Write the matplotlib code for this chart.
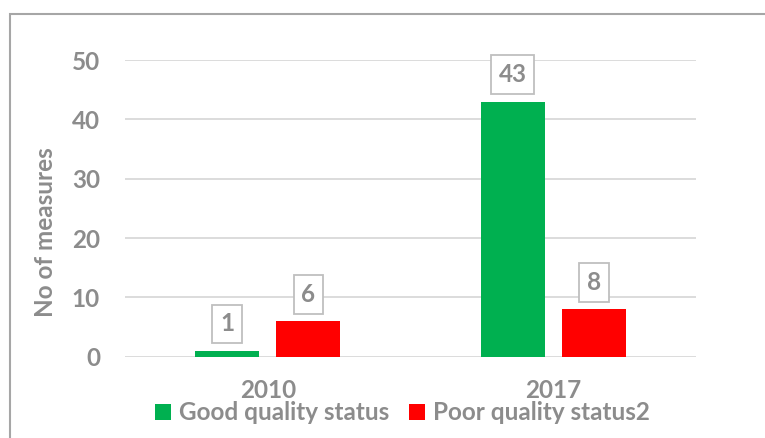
import matplotlib
matplotlib.use("Agg")
import matplotlib.pyplot as plt
from matplotlib.patches import Rectangle
import numpy as np

# data
years = ["2010", "2017"]
good = [1, 43]
poor = [6, 8]
series_names = ["Good quality status", "Poor quality status2"]
yticks = [0, 10, 20, 30, 40, 50]

plt.rcParams["font.family"] = ["Lato", "DejaVu Sans"]
text_grey = "#8c8c8c"
grid_grey = "#d9d9d9"
fs = 17.5

fig = plt.figure(figsize=(7.65, 4.38), dpi=100)
ax = fig.add_axes([0.1634, 0.1856, 0.9098 - 0.1634, 0.863 - 0.1856])

x = np.arange(len(years))
w = 0.224
gap = 0.06
b1 = ax.bar(x - (w + gap) / 2, good, w, color="#00b050", label=series_names[0], zorder=3)
b2 = ax.bar(x + (w + gap) / 2, poor, w, color="#ff0000", label=series_names[1], zorder=3)

ax.set_xlim(-0.5, 1.5)
ax.set_ylim(0, 50)
ax.set_yticks(yticks)
ax.set_xticks(x)
ax.set_xticklabels(years)
ax.yaxis.grid(True, color=grid_grey, linewidth=1.3, zorder=0)
ax.set_axisbelow(True)
for s in ax.spines.values():
    s.set_visible(False)
ax.tick_params(length=0, labelsize=fs, labelcolor=text_grey, pad=18)
ax.tick_params(axis="x", pad=16)
for lab in ax.get_xticklabels() + ax.get_yticklabels():
    lab.set_fontweight("bold")

ax.set_ylabel("No of measures", fontsize=fs, color=text_grey, fontweight="bold")
ax.yaxis.set_label_coords(-0.119, 0.42)

# value labels in boxes
for bars, vals in [(b1, good), (b2, poor)]:
    for rect, v in zip(bars, vals):
        ax.annotate(str(v), (rect.get_x() + rect.get_width() / 2, v),
                    xytext=(0, 11), textcoords="offset points",
                    ha="center", va="bottom", fontsize=fs, fontweight="bold",
                    color=text_grey, zorder=5,
                    bbox=dict(boxstyle="square,pad=0.32", fc="white", ec="#bfbfbf", lw=1.3))

leg = fig.legend(loc="center", bbox_to_anchor=(402.5 / 765, 1 - 413 / 438), ncol=2,
                 frameon=False, fontsize=fs, handlelength=0.65, handleheight=0.65,
                 handletextpad=0.35, columnspacing=0.8, borderaxespad=0, borderpad=0)
for t in leg.get_texts():
    t.set_color(text_grey)
    t.set_fontweight("bold")

# chart border
fig.patches.append(Rectangle((10 / 765, -0.1), 1.2, 1 - 13.5 / 438 + 0.1,
                             transform=fig.transFigure, fill=False,
                             ec="#a6a6a6", lw=1.5))

fig.savefig("out.png", dpi=100)
